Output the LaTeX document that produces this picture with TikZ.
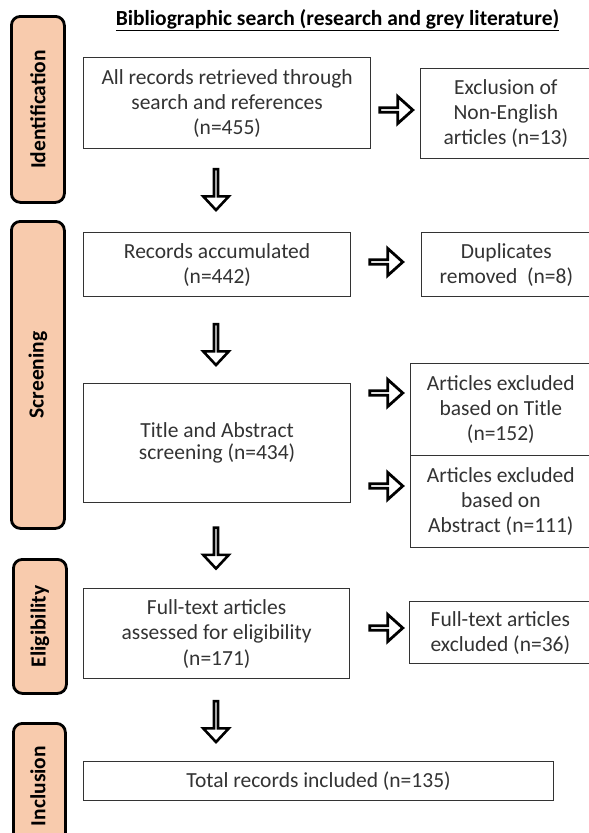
\documentclass[tikz,border=0pt]{standalone}
\usepackage{fontspec}
\setmainfont{Carlito}
\usetikzlibrary{shapes.arrows,calc}
\definecolor{peach}{HTML}{F8CBAD}
\definecolor{txt}{HTML}{333333}
\begin{document}
\begin{tikzpicture}[x=1pt,y=-1pt,
  box/.style={draw=black!80,line width=1.2pt,align=center,text=txt,
    font=\fontsize{21.5}{25}\selectfont,inner sep=0pt,anchor=north west},
  phase/.style={draw=black,line width=2.8pt,fill=peach,rounded corners=9pt,
    anchor=north west,inner sep=0pt,font=\bfseries\fontsize{21.5}{24}\selectfont},
  harrow/.style={single arrow,draw=black,line width=2.8pt,fill=white,
    minimum height=33pt,minimum width=27pt,single arrow head extend=7pt,
    single arrow tip angle=84,inner sep=0pt},
  varrow/.style={single arrow,draw=black,line width=2.6pt,fill=white,
    minimum height=41pt,minimum width=25.5pt,single arrow head extend=7pt,
    single arrow tip angle=86,inner sep=0pt,shape border rotate=270}]
\useasboundingbox (0,0) rectangle (589,833);
\clip (0,0) rectangle (589,833);
\fill[white] (0,0) rectangle (589,833);

% title
\node[font=\bfseries\fontsize{21.5}{24}\selectfont] (title) at (337.5,20) {\underline{Bibliographic search (research and grey literature)}};

% phase labels
\node[phase,minimum width=53pt,minimum height=186pt] (p1) at (10,15) {\rotatebox{90}{Identification}};
\node[phase,minimum width=53pt,minimum height=307pt] (p2) at (10,220) {\rotatebox{90}{Screening}};
\node[phase,minimum width=53pt,minimum height=134pt] (p3) at (12,558) {\rotatebox{90}{Eligibility}};
\node[phase,minimum width=52pt,minimum height=180pt] (p4) at (12,722) {};
\node[font=\bfseries\fontsize{21.5}{24}\selectfont,rotate=90] (p4t) at (38,786) {Inclusion};

% main boxes
\node[box,minimum width=287pt,minimum height=91pt] (b1) at (83,57)
  {All records retrieved through\\search and references\\(n=455)};
\node[box,minimum width=267pt,minimum height=64pt] (b2) at (83,232)
  {Records accumulated\\(n=442)};
\node[box,minimum width=267pt,minimum height=119pt,font=\fontsize{21.5}{21.5}\selectfont] (b3) at (83,383)
  {Title and Abstract\\screening (n=434)};
\node[box,minimum width=266pt,minimum height=90pt,font=\fontsize{21.5}{25.5}\selectfont] (b4) at (83,588)
  {Full-text articles\\assessed for eligibility\\(n=171)};
\node[box,minimum width=470pt,minimum height=39pt] (b5) at (83,761)
  {Total records included (n=135)};

% exclusion boxes
\node[box,minimum width=170.5pt,minimum height=90pt] (e1) at (420,68)
  {Exclusion of\\Non-English\\articles (n=13)};
\node[box,minimum width=169.5pt,minimum height=64pt] (e2) at (421,232)
  {Duplicates\\removed\ \ (n=8)};
\node[box,minimum width=180.5pt,minimum height=92pt] (e3) at (410,363)
  {Articles excluded\\based on Title\\(n=152)};
\node[box,minimum width=180.5pt,minimum height=92pt] (e4) at (410,455)
  {Articles excluded\\based on\\Abstract (n=111)};
\node[box,minimum width=181.5pt,minimum height=62pt] (e5) at (409,601)
  {Full-text articles\\excluded (n=36)};

% block arrows
\node[varrow] (v1) at (216,188.5) {};
\node[varrow] (v2) at (216,343.5) {};
\node[varrow] (v3) at (216,547) {};
\node[varrow] (v4) at (216,720.5) {};
\node[harrow] (h1) at (395,110) {};
\node[harrow] (h2) at (385,262) {};
\node[harrow] (h3) at (385,393) {};
\node[harrow] (h4) at (385,486) {};
\node[harrow] (h5) at (385,628) {};
\end{tikzpicture}
\end{document}
